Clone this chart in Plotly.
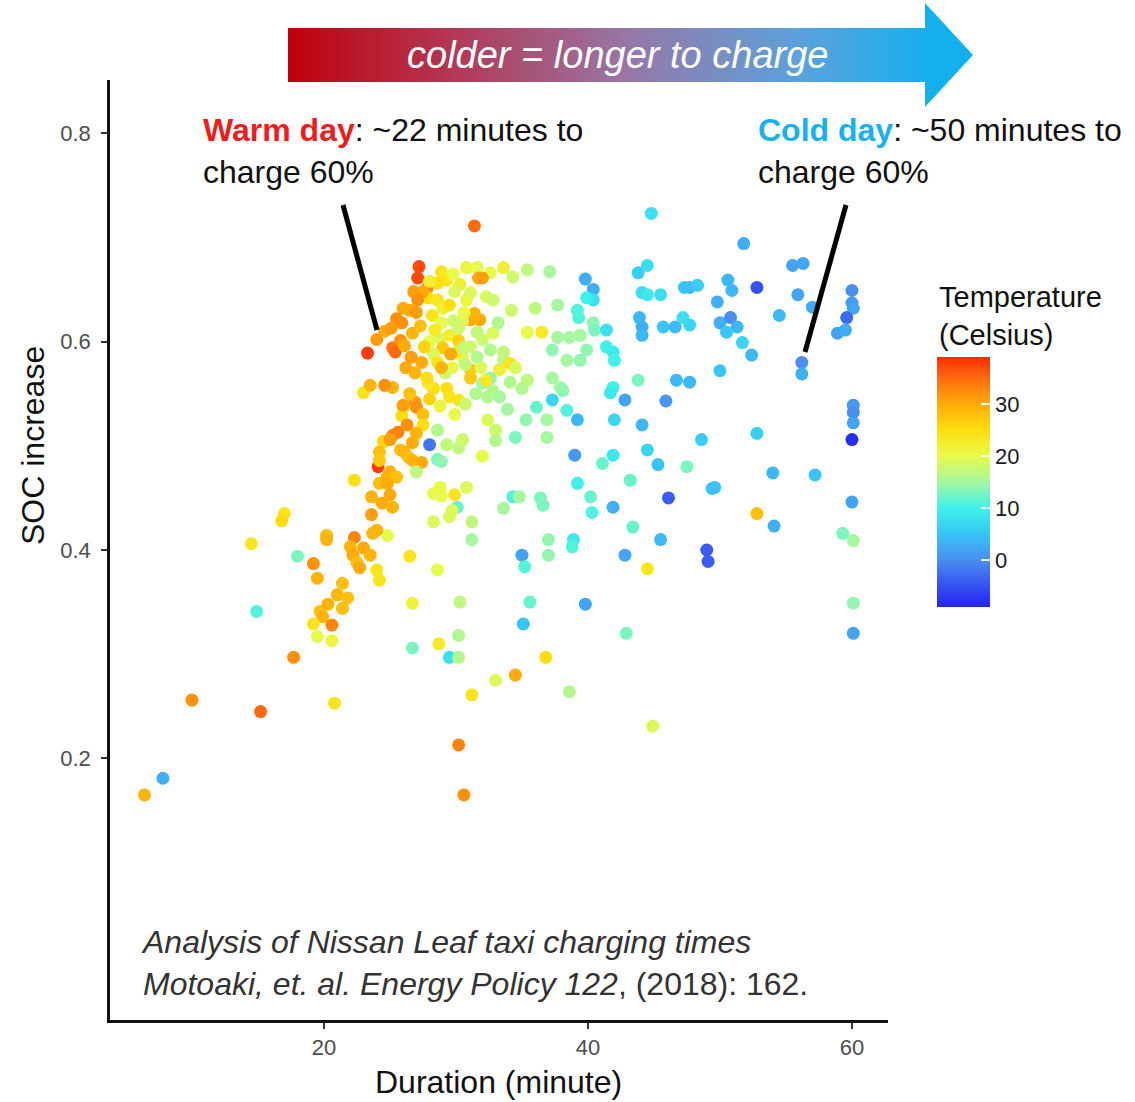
import plotly.graph_objects as go

W, H = 1135, 1102

# ---------------- data ----------------
duration = [
    6.4, 7.8, 10.0, 15.2, 20.8, 17.7, 14.9, 14.5, 17.0, 16.8,
    18.0, 19.2, 19.5, 20.2, 20.2, 22.3, 22.3, 24.1, 21.4, 21.0,
    20.3, 19.7, 19.9, 21.8, 21.4, 20.6, 19.2, 19.5, 20.6, 22.0,
    22.2, 22.5, 23.0, 23.5, 22.7, 24.0, 24.8, 23.7, 24.0, 23.6,
    24.4, 25.0, 25.2, 23.6, 24.2, 24.8, 24.5, 24.2, 24.2, 25.8,
    26.1, 26.4, 26.7, 27.4, 27.0, 25.0, 25.5, 24.8, 25.2, 25.6,
    25.0, 26.7, 28.0, 28.6, 29.3, 30.2, 30.5, 28.6, 28.9, 26.0,
    25.9, 25.2, 26.0, 26.9, 27.0, 24.6, 23.0, 23.3, 24.0, 25.2,
    25.4, 25.8, 26.1, 26.7, 27.3, 25.9, 26.0, 26.5, 27.0, 27.2,
    27.1, 27.8, 28.9, 29.3, 28.6, 30.8, 31.6, 31.7, 32.6, 33.6,
    27.9, 28.6, 29.0, 29.5, 31.1, 31.8, 31.4, 30.8, 31.1, 32.0,
    31.4, 28.0, 28.8, 29.5, 30.2, 30.5, 30.1, 29.0, 28.3, 28.6,
    29.7, 30.2, 30.5, 30.6, 31.1, 31.6, 32.0, 32.6, 32.8, 33.6,
    31.1, 31.1, 32.0, 32.6, 32.8, 33.3, 32.4, 30.2, 29.3, 29.5,
    28.3, 27.9, 32.4, 44.8, 34.3, 35.4, 37.1, 39.8, 40.4, 40.4,
    39.9, 43.8, 44.5, 47.7, 47.3, 44.1, 44.5, 45.5, 32.3, 32.8,
    34.2, 36.0, 37.7, 39.2, 39.3, 33.2, 35.4, 36.5, 37.7, 38.6,
    39.4, 40.4, 40.5, 41.4, 43.9, 44.1, 44.1, 45.7, 46.6, 47.7,
    47.2, 37.3, 38.4, 39.4, 39.9, 41.4, 41.9, 42.0, 34.1, 33.6,
    34.5, 32.3, 33.3, 34.1, 35.4, 35.0, 37.3, 37.9, 38.1, 37.3,
    36.1, 38.4, 43.8, 46.7, 47.7, 41.9, 41.7, 42.8, 45.9, 33.0,
    36.9, 36.9, 39.2, 42.0, 44.1, 34.5, 39.0, 41.9, 41.1, 44.5,
    45.3, 47.5, 39.2, 43.2, 51.8, 55.5, 56.3, 55.9, 57.0, 60.0,
    60.0, 60.1, 59.6, 58.9, 59.5, 52.8, 48.3, 50.6, 50.9, 49.8,
    54.5, 50.0, 50.8, 51.3, 50.5, 51.7, 52.4, 56.2, 56.2, 50.0,
    60.1, 60.1, 60.1, 60.0, 48.6, 52.8, 54.0, 57.2, 49.4, 49.6,
    52.8, 54.1, 60.0, 59.3, 60.1, 49.0, 49.1, 60.1, 60.1, 28.3,
    28.8, 28.9, 29.9, 30.1, 28.3, 29.5, 29.7, 31.2, 34.3, 34.8,
    33.6, 36.4, 36.6, 40.2, 40.3, 41.9, 46.1, 43.4, 45.5, 42.8,
    44.5, 26.5, 28.6, 24.2, 31.2, 35.0, 35.2, 37.0, 37.0, 38.9,
    38.8, 26.7, 30.3, 35.6, 35.1, 39.8, 30.2, 26.7, 28.7, 29.5,
    30.2, 36.8, 42.9, 33.0, 34.5, 31.2, 38.6, 30.2, 30.6, 44.9,
    27.5, 28.0, 29.8, 30.3, 29.9, 28.2, 28.9, 29.8, 30.6, 27.6,
    27.4, 26.9, 27.8, 26.2, 26.6, 29.6, 29.2, 30.7, 31.6, 31.9,
    25.5, 26.8, 27.1, 24.6, 25.1, 28.4, 27.5, 28.0, 26.5, 28.8,
    29.9, 30.7, 31.5, 33.9, 35.3, 33.0, 32.0, 30.8, 27.5, 27.0,
    26.3, 23.5, 28.9,
]

soc_increase = [
    0.165, 0.181, 0.256, 0.245, 0.253, 0.297, 0.341, 0.406, 0.435, 0.428,
    0.394, 0.387, 0.373, 0.414, 0.410, 0.412, 0.467, 0.480, 0.368, 0.357,
    0.348, 0.341, 0.336, 0.354, 0.344, 0.328, 0.329, 0.317, 0.313, 0.403,
    0.395, 0.388, 0.402, 0.395, 0.383, 0.381, 0.414, 0.416, 0.419, 0.434,
    0.445, 0.453, 0.441, 0.451, 0.464, 0.470, 0.504, 0.494, 0.486, 0.496,
    0.494, 0.489, 0.486, 0.484, 0.475, 0.475, 0.470, 0.464, 0.510, 0.513,
    0.506, 0.503, 0.501, 0.515, 0.501, 0.498, 0.506, 0.487, 0.485, 0.537,
    0.529, 0.556, 0.539, 0.542, 0.537, 0.558, 0.551, 0.589, 0.602, 0.594,
    0.590, 0.601, 0.596, 0.608, 0.615, 0.618, 0.632, 0.630, 0.628, 0.672,
    0.661, 0.651, 0.667, 0.659, 0.656, 0.671, 0.671, 0.661, 0.666, 0.671,
    0.642, 0.640, 0.632, 0.635, 0.621, 0.621, 0.627, 0.640, 0.647, 0.661,
    0.711, 0.600, 0.603, 0.606, 0.601, 0.585, 0.590, 0.594, 0.588, 0.580,
    0.575, 0.613, 0.620, 0.594, 0.595, 0.609, 0.602, 0.592, 0.608, 0.582,
    0.573, 0.565, 0.560, 0.565, 0.553, 0.547, 0.547, 0.544, 0.555, 0.547,
    0.555, 0.560, 0.525, 0.723, 0.662, 0.669, 0.667, 0.660, 0.650, 0.640,
    0.642, 0.666, 0.673, 0.652, 0.652, 0.647, 0.645, 0.645, 0.643, 0.640,
    0.630, 0.632, 0.635, 0.630, 0.623, 0.618, 0.609, 0.609, 0.604, 0.604,
    0.606, 0.618, 0.611, 0.611, 0.623, 0.614, 0.606, 0.614, 0.614, 0.616,
    0.623, 0.592, 0.582, 0.582, 0.592, 0.595, 0.590, 0.582, 0.579, 0.590,
    0.575, 0.563, 0.573, 0.561, 0.563, 0.555, 0.565, 0.556, 0.553, 0.544,
    0.537, 0.534, 0.563, 0.563, 0.561, 0.556, 0.551, 0.544, 0.543, 0.515,
    0.525, 0.508, 0.525, 0.525, 0.520, 0.508, 0.491, 0.491, 0.483, 0.496,
    0.482, 0.480, 0.464, 0.467, 0.694, 0.673, 0.675, 0.645, 0.633, 0.649,
    0.637, 0.632, 0.623, 0.608, 0.611, 0.652, 0.654, 0.659, 0.649, 0.638,
    0.625, 0.618, 0.623, 0.614, 0.609, 0.599, 0.587, 0.580, 0.569, 0.572,
    0.539, 0.532, 0.522, 0.506, 0.506, 0.512, 0.474, 0.472, 0.459, 0.460,
    0.435, 0.423, 0.446, 0.416, 0.409, 0.400, 0.389, 0.349, 0.320, 0.454,
    0.460, 0.452, 0.453, 0.441, 0.427, 0.432, 0.438, 0.427, 0.451, 0.451,
    0.440, 0.450, 0.443, 0.451, 0.436, 0.441, 0.450, 0.422, 0.410, 0.395,
    0.382, 0.394, 0.381, 0.371, 0.410, 0.395, 0.384, 0.410, 0.395, 0.410,
    0.403, 0.349, 0.350, 0.350, 0.329, 0.348, 0.318, 0.306, 0.310, 0.297,
    0.297, 0.297, 0.320, 0.275, 0.280, 0.261, 0.264, 0.213, 0.165, 0.231,
    0.648, 0.658, 0.665, 0.655, 0.648, 0.625, 0.618, 0.620, 0.628, 0.595,
    0.580, 0.570, 0.565, 0.575, 0.585, 0.588, 0.570, 0.578, 0.585, 0.575,
    0.622, 0.648, 0.640, 0.610, 0.613, 0.611, 0.530, 0.545, 0.550, 0.538,
    0.530, 0.540, 0.550, 0.535, 0.525, 0.505, 0.490, 0.460, 0.520, 0.512,
    0.520, 0.558, 0.575,
]

temperature = [
    29, 3, 32, 35, 24, 32, 11, 24, 24, 25,
    13, 32, 29, 28, 29, 33, 25, 38, 28, 29,
    29, 28, 29, 28, 28, 33, 24, 20, 21, 29,
    30, 28, 30, 29, 30, 24, 20, 29, 29, 31,
    30, 30, 29, 29, 28, 29, 26, 28, 27, 28,
    29, 28, 29, 30, 17, 29, 28, 30, 32, 33,
    31, 30, -2, 16, 17, 17, 18, 13, 14, 24,
    25, 29, 31, 31, 32, 32, 24, 38, 31, 34,
    35, 32, 30, 29, 28, 32, 30, 30, 31, 37,
    37, 33, 24, 24, 25, 21, 20, 30, 20, 22,
    25, 24, 22, 25, 30, 30, 29, 21, 19, 31,
    35, 20, 19, 22, 26, 20, 23, 27, 19, 24,
    21, 18, 19, 17, 18, 17, 18, 16, 19, 17,
    27, 27, 15, 14, 16, 15, 16, 24, 25, 24,
    25, 23, 19, 8, 18, 17, 15, 3, 3, 8,
    10, 6, 8, 4, 5, 8, 9, 8, 19, 18,
    18, 17, 15, 11, 11, 16, 20, 23, 15, 15,
    15, 14, 13, 8, 4, 3, 4, 5, 4, 7,
    8, 14, 15, 14, 14, 10, 9, 10, 24, 17,
    19, 23, 22, 16, 17, 16, 15, 15, 14, 7,
    12, 11, 13, 4, 4, 10, 9, 2, 1, 18,
    15, 15, 4, 7, 4, 13, 1, 9, 12, 7,
    5, 13, 10, 12, 3, 2, 2, 2, 3, 0,
    1, 2, -3, 2, 3, -5, 6, 4, 4, 3,
    4, 3, 0, 4, 5, 7, 4, 0, 3, 5,
    1, 0, 2, -8, 6, 6, 4, 5, 5, 5,
    28, 3, 2, 13, 15, -4, -4, 14, 2, 20,
    20, 20, 24, 12, 19, 19, 19, 17, 11, 15,
    15, 13, 13, 12, 11, 3, -4, 12, 4, 2,
    24, 24, 20, 24, 15, 2, 11, 14, 14, 9,
    11, 21, 17, 12, 5, 2, 16, 13, 23, 8,
    16, 25, 13, 19, 30, 24, 16, 33, 32, 19,
    30, 22, 20, 22, 19, 24, 20, 18, 20, 26,
    30, 29, 25, 30, 31, 30, 18, 17, 16, 19,
    32, 31, 32, 30, 31, 23, 28, 26, 28, 21,
    20, 18, 16, 15, 14, 16, 20, 19, 25, 29,
    32, 29, 29,
]

x_ticks = [20, 40, 60]
y_ticks = [0.2, 0.4, 0.6, 0.8]
temp_ticks = [0, 10, 20, 30]
temp_range = [-9, 39]

# ---------------- styling ----------------
temp_scale = [
    [0.000, "#2323f0"], [0.104, "#3a5cf2"], [0.1875, "#4a8ef2"],
    [0.292, "#38c4f6"], [0.396, "#3ef2ea"], [0.500, "#a6f7a0"],
    [0.604, "#e8fa4a"], [0.708, "#ffde10"], [0.8125, "#ffaa08"],
    [0.917, "#ff6a10"], [1.000, "#ff2a00"],
]

FONT = "Liberation Sans, Arial, sans-serif"

# colorbar geometry (pixels)
CB_LEFT, CB_W, CB_TOP, CB_LEN = 937, 53, 357, 250


def px(x):
    return x / W


def py(y):
    return 1 - y / H


fig = go.Figure()

fig.add_trace(go.Scatter(
    x=duration, y=soc_increase, mode="markers",
    marker=dict(
        size=13, color=temperature, colorscale=temp_scale,
        cmin=temp_range[0], cmax=temp_range[1],
        line=dict(width=0),
        showscale=True,
        colorbar=dict(
            x=px(CB_LEFT), xanchor="left",
            y=py(CB_TOP + CB_LEN / 2), yanchor="middle",
            len=CB_LEN, lenmode="pixels", thickness=CB_W, thicknessmode="pixels",
            outlinewidth=0, xpad=0, ypad=0,
            tickvals=temp_ticks, ticks="inside", ticklen=9, tickwidth=1.5,
            tickcolor="rgba(255,255,255,0.85)",
            tickfont=dict(family=FONT, size=22, color="#1a1a1a"),
        ),
    ),
    hoverinfo="skip", showlegend=False,
))

# decorative gradient arrow, drawn on a pixel-space overlay axis
fig.add_trace(go.Scatter(
    x=[288, 925, 925, 973, 925, 925, 288, 288],
    y=[28, 28, 3, 55, 107, 82, 82, 28],
    xaxis="x2", yaxis="y2", mode="lines", fill="toself",
    line=dict(width=0, color="rgba(0,0,0,0)"),
    fillgradient=dict(
        type="horizontal",
        colorscale=[[0, "#c0000c"], [0.25, "#b23a58"], [0.5, "#9678a8"],
                    [0.75, "#5aa2dc"], [0.94, "#14b0ee"], [1, "#14b0ee"]],
    ),
    hoverinfo="skip", showlegend=False,
))

fig.update_layout(
    width=W, height=H,
    margin=dict(l=0, r=0, t=0, b=0),
    paper_bgcolor="white", plot_bgcolor="rgba(0,0,0,0)",
    template="none",
    font=dict(family=FONT),
    xaxis=dict(
        domain=[px(110), px(888)], range=[3.79, 62.73], anchor="y",
        showline=True, linecolor="#111", linewidth=2.5,
        ticks="outside", ticklen=6, tickwidth=1.5, tickcolor="#333",
        tickvals=x_ticks, tickfont=dict(family=FONT, size=22, color="#4d4d4d"),
        showgrid=False, zeroline=False,
    ),
    yaxis=dict(
        domain=[py(1020), py(80)], range=[-0.051, 0.851], anchor="x",
        showline=True, linecolor="#111", linewidth=2.5,
        ticks="outside", ticklen=6, tickwidth=1.5, tickcolor="#333",
        tickvals=y_ticks, tickformat=".1f", ticklabelstandoff=6,
        tickfont=dict(family=FONT, size=22, color="#4d4d4d"),
        showgrid=False, zeroline=False,
    ),
    xaxis2=dict(domain=[0, 1], range=[0, W], anchor="y2", visible=False,
                fixedrange=True),
    yaxis2=dict(domain=[0, 1], range=[H, 0], anchor="x2", visible=False,
                fixedrange=True),
)

annotations = [
    dict(x=px(618), y=py(55), text="<i>colder = longer to charge</i>",
         xanchor="center", yanchor="middle",
         font=dict(family=FONT, size=38, color="white")),
    dict(x=px(201), y=py(110),
         text='<span style="color:#ee1c1c"><b>Warm day</b></span>: ~22 minutes to<br>charge 60%',
         xanchor="left", yanchor="top", align="left",
         font=dict(family=FONT, size=32, color="#111")),
    dict(x=px(756), y=py(110),
         text='<span style="color:#18b0ee"><b>Cold day</b></span>: ~50 minutes to<br>charge 60%',
         xanchor="left", yanchor="top", align="left",
         font=dict(family=FONT, size=32, color="#111")),
    dict(x=px(139), y=py(922),
         text="<i>Analysis of Nissan Leaf taxi charging times</i><br>"
              "<i>Motoaki, et. al. Energy Policy 122</i>, (2018): 162.",
         xanchor="left", yanchor="top", align="left",
         font=dict(family=FONT, size=32, color="#333")),
    dict(x=px(937), y=py(279), text="Temperature<br>(Celsius)",
         xanchor="left", yanchor="top", align="left",
         font=dict(family=FONT, size=29, color="#111")),
    dict(x=px(33), y=py(446), text="SOC increase", textangle=-90,
         xanchor="center", yanchor="middle",
         font=dict(family=FONT, size=32, color="#111")),
    dict(x=px(498), y=py(1082), text="Duration (minute)",
         xanchor="center", yanchor="middle",
         font=dict(family=FONT, size=32, color="#111")),
]
for a in annotations:
    a.update(xref="paper", yref="paper", showarrow=False)
fig.update_layout(annotations=annotations)

# white tick dashes on the left edge of the colour bar (ggplot style)
for v in temp_ticks:
    yy = CB_TOP + CB_LEN * (temp_range[1] - v) / (temp_range[1] - temp_range[0])
    fig.add_shape(type="line", xref="paper", yref="paper",
                  x0=px(CB_LEFT), x1=px(CB_LEFT + 9), y0=py(yy), y1=py(yy),
                  line=dict(color="rgba(255,255,255,0.85)", width=1.5),
                  layer="above")

# pointer lines
fig.add_shape(type="line", xref="paper", yref="paper",
              x0=px(343), y0=py(205), x1=px(377), y1=py(330),
              line=dict(color="black", width=5))
fig.add_shape(type="line", xref="paper", yref="paper",
              x0=px(846), y0=py(205), x1=px(805), y1=py(352),
              line=dict(color="black", width=5))

fig.write_html("out.html")
